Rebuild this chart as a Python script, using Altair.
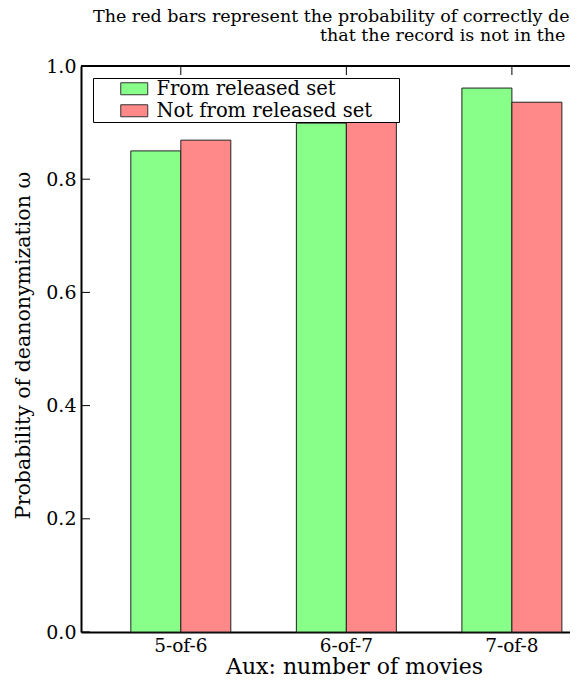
import altair as alt
import pandas as pd

CATEGORIES = ["5-of-6", "6-of-7", "7-of-8"]
SERIES = ["From released set", "Not from released set"]
FROM_RELEASED = [0.850, 0.899, 0.961]
NOT_FROM_RELEASED = [0.869, 0.905, 0.936]
Y_TICKS = [0.0, 0.2, 0.4, 0.6, 0.8, 1.0]
COLORS = ["#88ff88", "#ff8888"]
TITLE_LINES = [
    "The red bars represent the probability of correctly detecting",
    "that the record is not in the released set.",
]
X_TITLE = "Aux: number of movies"
Y_TITLE = "Probability of deanonymization ω"

FONT = "DejaVu Serif"
W, H = 489, 566

rows = []
for c, a, b in zip(CATEGORIES, FROM_RELEASED, NOT_FROM_RELEASED):
    rows.append({"cat": c, "series": SERIES[0], "value": a})
    rows.append({"cat": c, "series": SERIES[1], "value": b})
df = pd.DataFrame(rows)

xscale = alt.Scale(domain=CATEGORIES, paddingInner=0.396, paddingOuter=0.175, align=0.86)
yscale = alt.Scale(domain=[0, 1], nice=False)

bars = alt.Chart(df).mark_bar(stroke="#222222", strokeWidth=1).encode(
    x=alt.X("cat:N", scale=xscale, sort=CATEGORIES,
            axis=alt.Axis(title=X_TITLE, labelAngle=0, ticks=False, domainColor="black",
                          domainWidth=2, labelFont=FONT, labelFontSize=18.5, labelColor="black",
                          labelPadding=4, titleFont=FONT, titleFontSize=22,
                          titleFontWeight="normal", titleColor="black", titlePadding=2,
                          titleX=273, titleAlign="center", grid=False)),
    xOffset=alt.XOffset("series:N", sort=SERIES, scale=alt.Scale(domain=SERIES, paddingInner=0, paddingOuter=0)),
    y=alt.Y("value:Q", scale=yscale,
            axis=alt.Axis(title=Y_TITLE, values=Y_TICKS, format=".1f", ticks=False,
                          domainColor="black", domainWidth=2, labelFont=FONT, labelFontSize=19,
                          labelColor="black", labelPadding=5, titleFont=FONT, titleFontSize=20.5,
                          titleFontWeight="normal", titleColor="black", titlePadding=12,
                          titleY=279, grid=False)),
    color=alt.Color("series:N", sort=SERIES, scale=alt.Scale(domain=SERIES, range=COLORS),
                    legend=alt.Legend(title=" ", titleOrient="right", titlePadding=26,
                                      orient="none", legendX=12, legendY=12,
                                      strokeColor="black", fillColor="white", padding=1,
                                      rowPadding=1, symbolType="M-2.25,-1H2.25V1H-2.25Z",
                                      symbolSize=144, symbolStrokeColor="#333333",
                                      symbolStrokeWidth=1, symbolOffset=30.5, labelOffset=12.5,
                                      labelFont=FONT, labelFontSize=19.5, labelColor="black",
                                      labelLimit=400)),
)

ytick_df = pd.DataFrame({"v": Y_TICKS})
yticks = alt.Chart(ytick_df).mark_rule(color="black", strokeWidth=1).encode(
    y=alt.Y("v:Q", scale=yscale),
    x=alt.value(0), x2=alt.value(9),
)

xtick_df = pd.DataFrame({"cat": CATEGORIES})
xticks = alt.Chart(xtick_df).mark_rule(color="black", strokeWidth=1).encode(
    x=alt.X("cat:N", scale=xscale, sort=CATEGORIES),
    y=alt.value(0), y2=alt.value(9),
)

top_spine = alt.Chart(xtick_df).mark_rule(color="black", strokeWidth=2).encode(
    x=alt.value(0), x2=alt.value(W), y=alt.value(0),
)

t1 = alt.Chart(pd.DataFrame({"t": [TITLE_LINES[0]]})).mark_text(
    font=FONT, fontSize=17.5, color="black", align="left", baseline="alphabetic"
).encode(text="t:N", x=alt.value(12), y=alt.value(-44))
t2 = alt.Chart(pd.DataFrame({"t": [TITLE_LINES[1]]})).mark_text(
    font=FONT, fontSize=17.5, color="black", align="left", baseline="alphabetic"
).encode(text="t:N", x=alt.value(239), y=alt.value(-25))

chart = alt.layer(bars, yticks, xticks, top_spine, t1, t2).properties(
    width=W, height=H,
    autosize=alt.AutoSizeParams(type="none"),
    padding={"left": 73, "top": 58, "right": 0, "bottom": 47},
).configure_view(stroke=None).configure(background="white")

chart.save("out.html", embed_options={"renderer": "svg", "actions": False})
